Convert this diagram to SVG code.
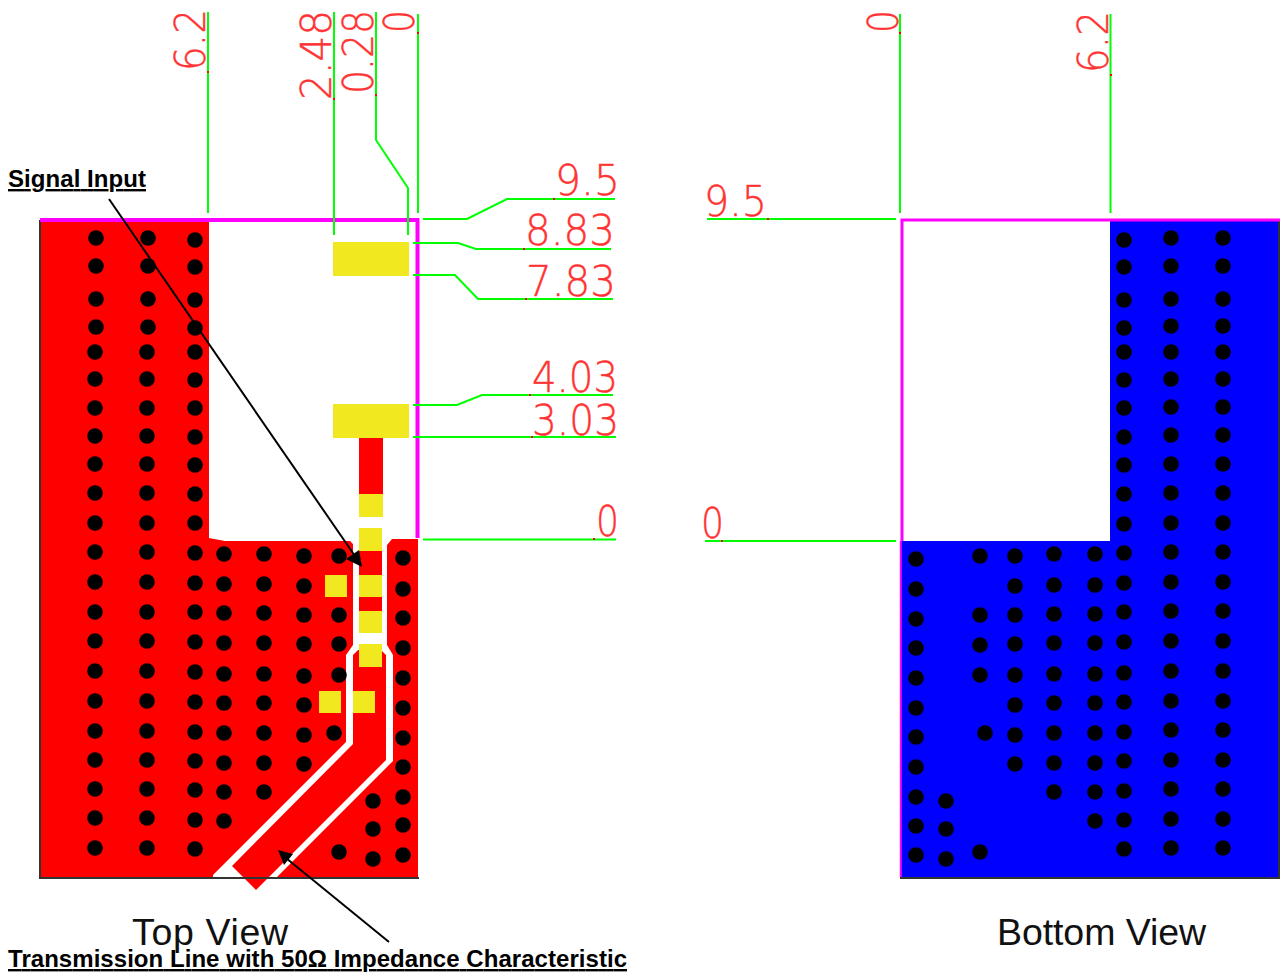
<svg xmlns="http://www.w3.org/2000/svg" width="1280" height="972" viewBox="0 0 1280 972">
<style>
.v{fill:#000;r:7.8px}
.y{fill:#f2e81f}
.r{fill:#f00}
.g{fill:none;stroke:#0f0;stroke-width:2}
.m{fill:none;stroke:#f0f;stroke-width:4}
.k{fill:none;stroke:#333;stroke-width:2}
.d{font-family:"DejaVu Sans","Liberation Sans",sans-serif;font-weight:200;font-size:42px;fill:#f33;stroke:#f33;stroke-width:.4}
.b{font-family:"Liberation Sans",Arial,sans-serif;font-weight:700;font-size:24px;fill:#000;text-decoration:underline}
.t{font-family:"Liberation Sans",Arial,sans-serif;font-size:37.500px;fill:#111}
.a{stroke:#000;stroke-width:2;fill:none}
.h{fill:#000}
.p{fill:#f00}
</style>
<rect width="1280" height="972" fill="#fff"/>
<g id="top-view">
<path class="r" d="M40,220H209V538L225,541H350L353,544V645L346,655V742L213,875L213,877H40Z"/>
<path class="r" d="M387,545L392,539H418V877H277L393,761V655L387,645Z"/>
<path class="r" d="M358,650H381L386,655V760L256,890L232,866L353,744V655Z"/>
<path class="k" d="M40,220V878H419"/>
<path class="m" d="M40,220H417.500V538"/>
<g id="top-vias">
<circle class="v" cx="96" cy="238"/><circle class="v" cx="96" cy="266"/><circle class="v" cx="96" cy="299"/><circle class="v" cx="96" cy="327"/><circle class="v" cx="95" cy="352"/><circle class="v" cx="95" cy="379"/><circle class="v" cx="95" cy="408"/><circle class="v" cx="95" cy="436"/><circle class="v" cx="95" cy="464"/><circle class="v" cx="95" cy="493"/><circle class="v" cx="95" cy="523"/><circle class="v" cx="95" cy="552"/><circle class="v" cx="95" cy="582"/><circle class="v" cx="95" cy="612"/><circle class="v" cx="95" cy="641"/><circle class="v" cx="95" cy="671"/><circle class="v" cx="95" cy="701"/><circle class="v" cx="95" cy="731"/><circle class="v" cx="95" cy="760"/><circle class="v" cx="95" cy="789"/><circle class="v" cx="95" cy="818"/><circle class="v" cx="95" cy="848"/>
<circle class="v" cx="148" cy="238"/><circle class="v" cx="148" cy="266"/><circle class="v" cx="148" cy="299"/><circle class="v" cx="148" cy="327"/><circle class="v" cx="147" cy="352"/><circle class="v" cx="147" cy="379"/><circle class="v" cx="147" cy="408"/><circle class="v" cx="147" cy="436"/><circle class="v" cx="147" cy="464"/><circle class="v" cx="147" cy="493"/><circle class="v" cx="147" cy="523"/><circle class="v" cx="147" cy="552"/><circle class="v" cx="147" cy="582"/><circle class="v" cx="147" cy="612"/><circle class="v" cx="147" cy="641"/><circle class="v" cx="147" cy="671"/><circle class="v" cx="147" cy="701"/><circle class="v" cx="147" cy="731"/><circle class="v" cx="147" cy="760"/><circle class="v" cx="147" cy="789"/><circle class="v" cx="147" cy="818"/><circle class="v" cx="147" cy="848"/>
<circle class="v" cx="195" cy="240"/><circle class="v" cx="195" cy="267"/><circle class="v" cx="195" cy="300"/><circle class="v" cx="195" cy="328"/><circle class="v" cx="195" cy="352"/><circle class="v" cx="195" cy="380"/><circle class="v" cx="195" cy="408"/><circle class="v" cx="195" cy="437"/><circle class="v" cx="195" cy="465"/><circle class="v" cx="195" cy="494"/><circle class="v" cx="195" cy="523"/><circle class="v" cx="195" cy="553"/><circle class="v" cx="195" cy="583"/><circle class="v" cx="195" cy="612"/><circle class="v" cx="195" cy="642"/><circle class="v" cx="195" cy="672"/><circle class="v" cx="195" cy="702"/><circle class="v" cx="195" cy="732"/><circle class="v" cx="195" cy="761"/><circle class="v" cx="195" cy="790"/><circle class="v" cx="195" cy="820"/><circle class="v" cx="195" cy="849"/>
<circle class="v" cx="224" cy="554"/><circle class="v" cx="224" cy="584"/><circle class="v" cx="224" cy="613"/><circle class="v" cx="224" cy="643"/><circle class="v" cx="224" cy="674"/><circle class="v" cx="224" cy="703"/><circle class="v" cx="224" cy="733"/><circle class="v" cx="224" cy="763"/><circle class="v" cx="224" cy="792"/><circle class="v" cx="224" cy="821"/>
<circle class="v" cx="264" cy="554"/><circle class="v" cx="264" cy="584"/><circle class="v" cx="264" cy="613"/><circle class="v" cx="264" cy="643"/><circle class="v" cx="264" cy="674"/><circle class="v" cx="264" cy="703"/><circle class="v" cx="264" cy="733"/><circle class="v" cx="264" cy="763"/><circle class="v" cx="264" cy="792"/>
<circle class="v" cx="304" cy="556"/><circle class="v" cx="304" cy="586"/><circle class="v" cx="304" cy="615"/><circle class="v" cx="304" cy="644"/><circle class="v" cx="304" cy="676"/><circle class="v" cx="304" cy="705"/><circle class="v" cx="304" cy="735"/><circle class="v" cx="304" cy="764"/>
<circle class="v" cx="339" cy="556"/><circle class="v" cx="339" cy="615"/><circle class="v" cx="339" cy="644"/><circle class="v" cx="339" cy="675"/><circle class="v" cx="334" cy="733"/><circle class="v" cx="339" cy="852"/>
<circle class="v" cx="373" cy="801"/><circle class="v" cx="373" cy="829"/><circle class="v" cx="373" cy="859"/>
<circle class="v" cx="403" cy="558"/><circle class="v" cx="403" cy="589"/><circle class="v" cx="403" cy="618"/><circle class="v" cx="403" cy="648"/><circle class="v" cx="403" cy="678"/><circle class="v" cx="403" cy="708"/><circle class="v" cx="403" cy="738"/><circle class="v" cx="403" cy="767"/><circle class="v" cx="403" cy="797"/><circle class="v" cx="403" cy="825"/><circle class="v" cx="403" cy="855"/>
</g>
<g id="top-pads">
<rect class="y" x="333" y="242" width="76" height="34"/>
<rect class="y" x="333" y="404" width="76" height="34"/>
<rect class="r" x="359" y="438" width="24" height="56"/>
<rect class="y" x="359" y="494" width="24" height="23"/>
<rect class="y" x="359" y="528" width="23" height="23"/>
<rect class="r" x="359" y="551" width="23" height="24"/>
<rect class="y" x="359" y="575" width="23" height="22"/>
<rect class="r" x="359" y="597" width="23" height="14"/>
<rect class="y" x="359" y="611" width="23" height="22"/>
<rect class="y" x="359" y="644" width="23" height="23"/>
<rect class="y" x="325" y="575" width="22" height="22"/>
<rect class="y" x="319" y="691" width="22" height="22"/>
<rect class="y" x="353" y="691" width="22" height="22"/>
</g>
</g>
<g id="bottom-view">
<path fill="#00f" d="M1110,220H1279V877H900V541H1110Z"/>
<path class="k" d="M900,878H1279V220"/>
<path d="M902,541V220H1280" fill="none" stroke="#f0f" stroke-width="3"/>
<path d="M900.800,541V877" fill="none" stroke="#f0f" stroke-width="2"/>
<g id="bottom-vias">
<circle class="v" cx="916" cy="559"/><circle class="v" cx="916" cy="589"/><circle class="v" cx="916" cy="619"/><circle class="v" cx="916" cy="648"/><circle class="v" cx="916" cy="678"/><circle class="v" cx="916" cy="708"/><circle class="v" cx="916" cy="737"/><circle class="v" cx="916" cy="767"/><circle class="v" cx="916" cy="797"/><circle class="v" cx="916" cy="826"/><circle class="v" cx="916" cy="855"/>
<circle class="v" cx="946" cy="801"/><circle class="v" cx="946" cy="829"/><circle class="v" cx="946" cy="859"/>
<circle class="v" cx="980" cy="556"/><circle class="v" cx="980" cy="615"/><circle class="v" cx="980" cy="645"/><circle class="v" cx="980" cy="675"/><circle class="v" cx="985" cy="733"/><circle class="v" cx="980" cy="852"/>
<circle class="v" cx="1015" cy="556"/><circle class="v" cx="1015" cy="586"/><circle class="v" cx="1015" cy="615"/><circle class="v" cx="1015" cy="644"/><circle class="v" cx="1015" cy="675"/><circle class="v" cx="1015" cy="705"/><circle class="v" cx="1015" cy="735"/><circle class="v" cx="1015" cy="764"/>
<circle class="v" cx="1054" cy="554"/><circle class="v" cx="1054" cy="585"/><circle class="v" cx="1054" cy="614"/><circle class="v" cx="1054" cy="643"/><circle class="v" cx="1054" cy="674"/><circle class="v" cx="1054" cy="703"/><circle class="v" cx="1054" cy="733"/><circle class="v" cx="1054" cy="763"/><circle class="v" cx="1054" cy="792"/>
<circle class="v" cx="1095" cy="554"/><circle class="v" cx="1095" cy="585"/><circle class="v" cx="1095" cy="614"/><circle class="v" cx="1095" cy="643"/><circle class="v" cx="1095" cy="674"/><circle class="v" cx="1095" cy="703"/><circle class="v" cx="1095" cy="733"/><circle class="v" cx="1095" cy="763"/><circle class="v" cx="1095" cy="792"/><circle class="v" cx="1095" cy="821"/>
<circle class="v" cx="1124" cy="240"/><circle class="v" cx="1124" cy="267"/><circle class="v" cx="1124" cy="300"/><circle class="v" cx="1124" cy="328"/><circle class="v" cx="1124" cy="352"/><circle class="v" cx="1124" cy="380"/><circle class="v" cx="1124" cy="408"/><circle class="v" cx="1124" cy="437"/><circle class="v" cx="1124" cy="465"/><circle class="v" cx="1124" cy="494"/><circle class="v" cx="1124" cy="524"/><circle class="v" cx="1124" cy="553"/><circle class="v" cx="1124" cy="583"/><circle class="v" cx="1124" cy="612"/><circle class="v" cx="1124" cy="642"/><circle class="v" cx="1124" cy="673"/><circle class="v" cx="1124" cy="702"/><circle class="v" cx="1124" cy="732"/><circle class="v" cx="1124" cy="761"/><circle class="v" cx="1124" cy="791"/><circle class="v" cx="1124" cy="820"/><circle class="v" cx="1124" cy="849"/>
<circle class="v" cx="1171" cy="238"/><circle class="v" cx="1171" cy="266"/><circle class="v" cx="1171" cy="299"/><circle class="v" cx="1171" cy="326"/><circle class="v" cx="1171" cy="352"/><circle class="v" cx="1171" cy="379"/><circle class="v" cx="1171" cy="407"/><circle class="v" cx="1171" cy="435"/><circle class="v" cx="1171" cy="464"/><circle class="v" cx="1171" cy="493"/><circle class="v" cx="1171" cy="523"/><circle class="v" cx="1171" cy="552"/><circle class="v" cx="1171" cy="582"/><circle class="v" cx="1171" cy="611"/><circle class="v" cx="1171" cy="641"/><circle class="v" cx="1171" cy="671"/><circle class="v" cx="1171" cy="701"/><circle class="v" cx="1171" cy="730"/><circle class="v" cx="1171" cy="760"/><circle class="v" cx="1171" cy="789"/><circle class="v" cx="1171" cy="819"/><circle class="v" cx="1171" cy="848"/>
<circle class="v" cx="1223" cy="238"/><circle class="v" cx="1223" cy="266"/><circle class="v" cx="1223" cy="299"/><circle class="v" cx="1223" cy="326"/><circle class="v" cx="1223" cy="352"/><circle class="v" cx="1223" cy="379"/><circle class="v" cx="1223" cy="407"/><circle class="v" cx="1223" cy="435"/><circle class="v" cx="1223" cy="464"/><circle class="v" cx="1223" cy="493"/><circle class="v" cx="1223" cy="523"/><circle class="v" cx="1223" cy="552"/><circle class="v" cx="1223" cy="582"/><circle class="v" cx="1223" cy="611"/><circle class="v" cx="1223" cy="641"/><circle class="v" cx="1223" cy="671"/><circle class="v" cx="1223" cy="701"/><circle class="v" cx="1223" cy="730"/><circle class="v" cx="1223" cy="760"/><circle class="v" cx="1223" cy="789"/><circle class="v" cx="1223" cy="819"/><circle class="v" cx="1223" cy="848"/>
</g>
</g>
<g id="connectors">
<path class="g" d="M208,12V213"/>
<path class="g" d="M334,12V235"/>
<path class="g" d="M376,12V140L408,188V235"/>
<path class="g" d="M418,14V213"/>
<path class="g" d="M423,219H467L507,199H615"/>
<path class="g" d="M413,243H458L476,249H611"/>
<path class="g" d="M413,275H455L478,299H613"/>
<path class="g" d="M413,405H457L482,395H613"/>
<path class="g" d="M413,437H616"/>
<path class="g" d="M423,539.500H616"/>
<path class="g" d="M900,14V213"/>
<path class="g" d="M1110.500,14V213"/>
<path class="g" d="M707,219H896"/>
<path class="g" d="M705,541H896"/>
<path class="a" d="M109,199L355,556"/>
<path class="h" d="M362,567L346,559L359,550Z"/>
<path class="a" d="M389,942L286,858"/>
<path class="h" d="M278,850L284,865L293,854Z"/>
<rect class="p" x="207" y="71" width="2" height="2"/><rect class="p" x="333" y="98" width="2" height="2"/><rect class="p" x="375" y="94" width="2" height="2"/><rect class="p" x="417" y="32" width="2" height="2"/><rect class="p" x="553" y="198" width="2" height="2"/><rect class="p" x="523" y="248" width="2" height="2"/><rect class="p" x="525" y="298" width="2" height="2"/><rect class="p" x="529" y="394" width="2" height="2"/><rect class="p" x="531" y="436" width="2" height="2"/><rect class="p" x="593" y="538" width="2" height="2"/><rect class="p" x="899" y="32" width="2" height="2"/><rect class="p" x="1110" y="74" width="2" height="2"/><rect class="p" x="767" y="218" width="2" height="2"/><rect class="p" x="721" y="540" width="2" height="2"/>
</g>
<g id="labels">
<text class="d" transform="translate(205,71) rotate(-90)" textLength="62" lengthAdjust="spacingAndGlyphs">6.2</text>
<text class="d" transform="translate(331,100) rotate(-90)" textLength="90" lengthAdjust="spacingAndGlyphs">2.48</text>
<text class="d" transform="translate(373,94) rotate(-90)" textLength="84" lengthAdjust="spacingAndGlyphs">0.28</text>
<text class="d" transform="translate(414,33) rotate(-90)" textLength="23" lengthAdjust="spacingAndGlyphs">0</text>
<text class="d" transform="translate(898,33) rotate(-90)" textLength="23" lengthAdjust="spacingAndGlyphs">0</text>
<text class="d" transform="translate(1108,73) rotate(-90)" textLength="62" lengthAdjust="spacingAndGlyphs">6.2</text>
<text class="d" x="555" y="195" textLength="65" lengthAdjust="spacingAndGlyphs">9.5</text>
<text class="d" x="525" y="245" textLength="90" lengthAdjust="spacingAndGlyphs">8.83</text>
<text class="d" x="526" y="296" textLength="90" lengthAdjust="spacingAndGlyphs">7.83</text>
<text class="d" x="532" y="392" textLength="86" lengthAdjust="spacingAndGlyphs">4.03</text>
<text class="d" x="532" y="435" textLength="87" lengthAdjust="spacingAndGlyphs">3.03</text>
<text class="d" x="596" y="536" textLength="23" lengthAdjust="spacingAndGlyphs">0</text>
<text class="d" x="704" y="216" textLength="63" lengthAdjust="spacingAndGlyphs">9.5</text>
<text class="d" x="701" y="538" textLength="23" lengthAdjust="spacingAndGlyphs">0</text>
<text class="b" x="8" y="187" textLength="138">Signal Input</text>
<text class="b" x="8" y="967" textLength="619">Transmission Line with 50Ω Impedance Characteristic</text>
<text class="t" x="132" y="945" textLength="156">Top View</text>
<text class="t" x="997" y="945" textLength="209">Bottom View</text>
</g>
</svg>
